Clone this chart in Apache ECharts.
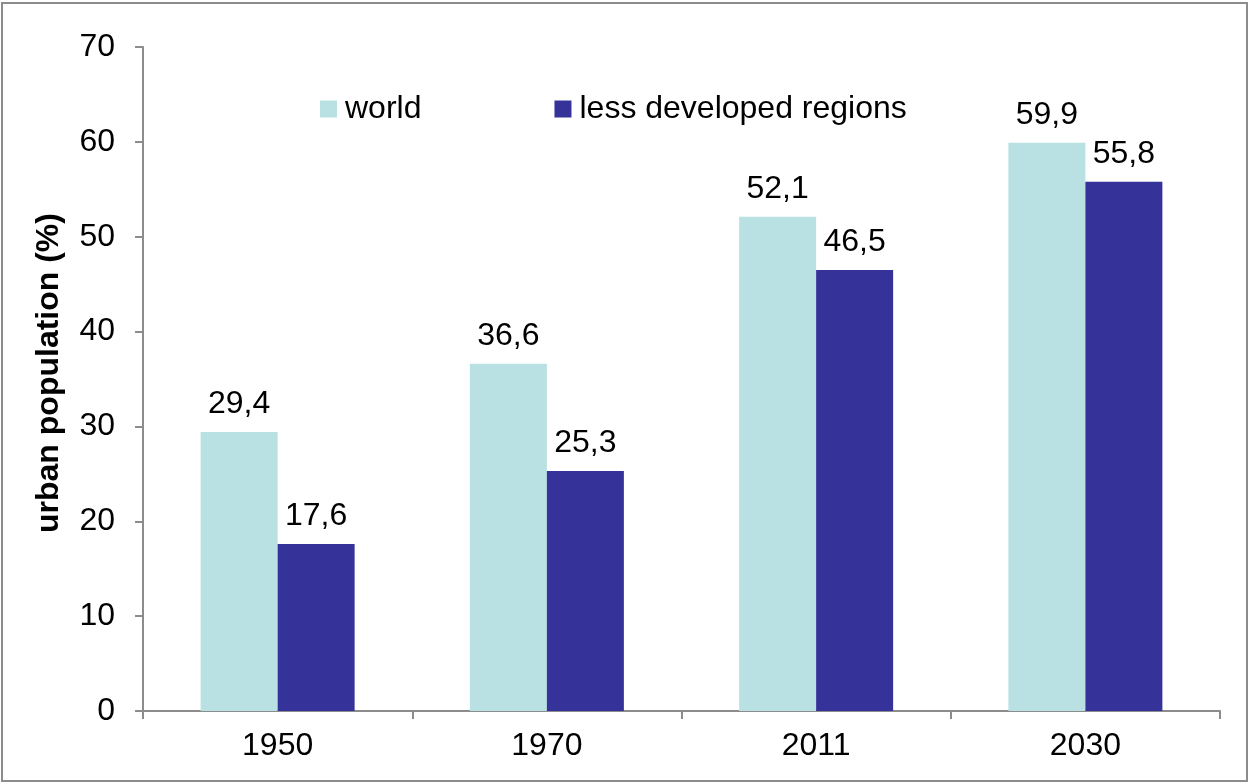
<!DOCTYPE html>
<html>
<head>
<meta charset="utf-8">
<script src="https://cdn.jsdelivr.net/npm/echarts@6/dist/echarts.min.js"></script>
<style>
html,body{margin:0;padding:0;background:#fff;}
#chart{width:1250px;height:783px;}
</style>
</head>
<body>
<div id="chart"></div>
<script>
const categories = ['1950', '1970', '2011', '2030'];
const worldValues = [29.4, 36.6, 52.1, 59.9];
const lessDevelopedValues = [17.6, 25.3, 46.5, 55.8];
const seriesNames = ['world', 'less developed regions'];
const yAxisName = 'urban population (%)';

const chart = echarts.init(document.getElementById('chart'));
const FONT = '"Liberation Sans", Arial, sans-serif';
const labelFmt = p => String(p.value.toFixed(1)).replace('.', ',');
const axisColor = '#8c8c8c';

chart.setOption({
  animation: false,
  backgroundColor: '#fff',
  textStyle: { fontFamily: FONT },
  graphic: [{
    type: 'rect',
    shape: { x: 2, y: 3, width: 1245, height: 778 },
    style: { fill: 'none', stroke: axisColor, lineWidth: 2 },
    silent: true
  }],
  legend: {
    left: 320,
    top: 93,
    padding: 0,
    itemWidth: 17,
    itemHeight: 17,
    itemGap: 133,
    icon: 'rect',
    textStyle: { fontFamily: FONT, fontSize: 32, color: '#000', padding: [0, 0, 0, 3] },
    data: seriesNames
  },
  grid: { left: 143, right: 30, top: 47, bottom: 72, containLabel: false },
  xAxis: {
    type: 'category',
    data: categories,
    axisLine: { lineStyle: { color: axisColor, width: 2 } },
    axisTick: { show: true, length: 8, lineStyle: { color: axisColor, width: 2 } },
    axisLabel: { color: '#000', fontSize: 32, fontFamily: FONT, margin: 19 }
  },
  yAxis: {
    type: 'value',
    min: 0, max: 70, interval: 10,
    name: yAxisName,
    nameLocation: 'middle',
    nameGap: 78,
    nameTextStyle: { fontSize: 32, fontWeight: 'bold', color: '#000', fontFamily: FONT, padding: [0, 0, 0, 12] },
    splitLine: { show: false },
    axisLine: { show: true, lineStyle: { color: axisColor, width: 2 } },
    axisTick: { show: true, length: 8, lineStyle: { color: axisColor, width: 2 } },
    axisLabel: { color: '#000', fontSize: 32, fontFamily: FONT, margin: 28 }
  },
  series: [
    {
      name: seriesNames[0], type: 'bar', data: worldValues,
      barWidth: 77, barGap: '0%',
      itemStyle: { color: '#b9e0e3' },
      label: { show: true, position: 'top', distance: 12, fontSize: 32, color: '#000', fontFamily: FONT, formatter: labelFmt }
    },
    {
      name: seriesNames[1], type: 'bar', data: lessDevelopedValues,
      barWidth: 77, barGap: '0%',
      itemStyle: { color: '#353399' },
      label: { show: true, position: 'top', distance: 12, fontSize: 32, color: '#000', fontFamily: FONT, formatter: labelFmt }
    }
  ]
});
</script>
</body>
</html>
